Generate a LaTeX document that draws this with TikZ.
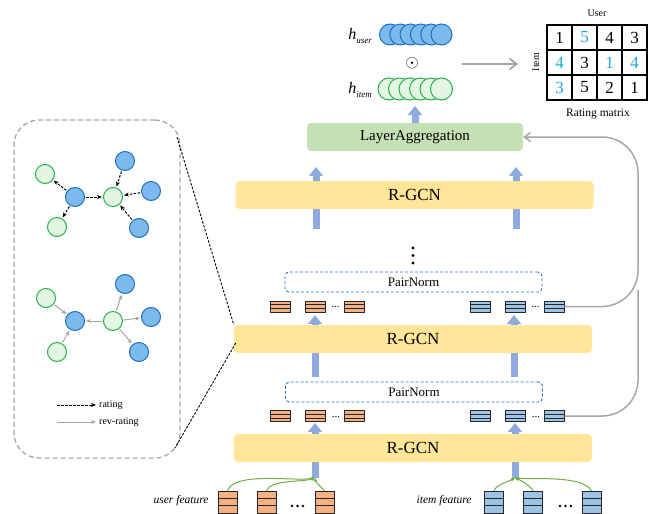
\documentclass[tikz,border=0pt]{standalone}
\usepackage{fontspec}
\setmainfont{Liberation Serif}
\usetikzlibrary{arrows.meta,calc}
\definecolor{bfill}{HTML}{7CB9EC}
\definecolor{bdraw}{HTML}{1F6FC0}
\definecolor{gfill}{HTML}{E3F6E3}
\definecolor{gdraw}{HTML}{24B04A}
\definecolor{fatc}{HTML}{8FAADC}
\definecolor{yel}{HTML}{FFE699}
\definecolor{lagg}{HTML}{C5E0B4}
\definecolor{orf}{HTML}{F4B183}
\definecolor{blf}{HTML}{9DC3E6}
\definecolor{pn}{HTML}{2E75B6}
\definecolor{cy}{HTML}{1EA7E1}
\definecolor{gr}{HTML}{A6A6A6}
\definecolor{grn}{HTML}{70AD47}
\newcommand{\fsz}[1]{\fontsize{#1}{#1}\selectfont}
\tikzset{
  layer/.style={fill=yel, rounded corners=4pt, minimum width=358pt, minimum height=28pt, inner sep=0pt, font=\fsz{17}},
  aggbox/.style={fill=lagg, rounded corners=4pt, minimum width=216pt, minimum height=28pt, inner sep=0pt, font=\fsz{15}},
  pairbox/.style={draw=pn, dashed, dash pattern=on 3pt off 2pt, line width=0.9pt, rounded corners=4pt, minimum width=257pt, minimum height=20pt, inner sep=0pt, font=\fsz{13}},
  fat/.style={draw=fatc, line width=7pt, -{Triangle[length=9pt,width=14pt]}},
  stripe/.style={draw=black!85, fill=#1, line width=0.6pt, minimum width=20pt, minimum height=11pt, inner sep=0pt,
    path picture={\draw[black!85,line width=0.6pt]
      ($(path picture bounding box.north west)!0.333!(path picture bounding box.south west)$) -- ($(path picture bounding box.north east)!0.333!(path picture bounding box.south east)$)
      ($(path picture bounding box.north west)!0.667!(path picture bounding box.south west)$) -- ($(path picture bounding box.north east)!0.667!(path picture bounding box.south east)$);}},
  featbox/.style={stripe=#1, minimum width=19pt, minimum height=22pt},
  bnode/.style={circle, fill=bfill, draw=bdraw, line width=1pt, minimum size=19pt, inner sep=0pt},
  gnode/.style={circle, fill=gfill, draw=gdraw, line width=1pt, minimum size=19pt, inner sep=0pt},
  hub/.style={circle, fill=bfill, draw=bdraw, line width=1pt, minimum size=21pt, inner sep=0pt},
  hig/.style={circle, fill=gfill, draw=gdraw, line width=1pt, minimum size=22pt, inner sep=0pt},
  redge/.style={black, dashed, dash pattern=on 2.5pt off 1.5pt, line width=1pt, -{Stealth[length=5pt,width=4pt]}, shorten >=1pt, shorten <=1pt},
  gedge/.style={gr, line width=1pt, -{Stealth[length=5pt,width=4pt]}, shorten >=1pt, shorten <=1pt},
  gline/.style={grn, line width=1pt, -{Stealth[length=4pt,width=4pt]}},
  cell/.style={draw=black, line width=1.2pt, minimum size=25pt, inner sep=0pt, font=\fsz{17}},
  side/.style={gr, line width=1.5pt, rounded corners=36pt},
}
\begin{document}
\begin{tikzpicture}[x=1pt,y=-1pt]
\useasboundingbox (0,0) rectangle (659,514);

% ---- fat arrows (behind boxes)
\coordinate (fa1s) at (315,478); \coordinate (fa1e) at (315,423);
\coordinate (fb1s) at (515,478); \coordinate (fb1e) at (515,423);
\coordinate (fa2s) at (315,377); \coordinate (fa2e) at (315,315);
\coordinate (fb2s) at (514,377); \coordinate (fb2e) at (514,315);
\coordinate (fa3s) at (316,229); \coordinate (fa3e) at (316,167);
\coordinate (fb3s) at (516,229); \coordinate (fb3e) at (516,167);
\draw[fat] (fa1s) -- (fa1e);
\draw[fat] (fb1s) -- (fb1e);
\draw[fat] (fa2s) -- (fa2e);
\draw[fat] (fb2s) -- (fb2e);
\draw[fat] (fa3s) -- (fa3e);
\draw[fat] (fb3s) -- (fb3e);

% ---- layers
\node[layer] (r1) at (413,448) {R-GCN};
\node[layer] (r2) at (413,339) {R-GCN};
\node[layer] (r3) at (414.5,195) {R-GCN};
\node[aggbox] (la) at (415,137) {LayerAggregation};
\node[pairbox] (pn1) at (414,392) {PairNorm};
\node[pairbox] (pn2) at (413.5,282) {PairNorm};
\foreach \yy in {248,255.5,263} \fill (413,\yy) circle (1.6pt);

% ---- feature rows
\node[stripe=orf] (ol1) at (280.5,416) {};
\node[stripe=orf] (ol2) at (315,416) {};
\node[stripe=orf] (ol3) at (354.5,416) {};
\node[stripe=blf] (bl1) at (480.5,416) {};
\node[stripe=blf] (bl2) at (515,416) {};
\node[stripe=blf] (bl3) at (554.5,416) {};
\node[font=\fsz{11}] (dl1) at (336,417) {...};
\node[font=\fsz{11}] (dl2) at (536,417) {...};
\node[stripe=orf] (ou1) at (280,306.5) {};
\node[stripe=orf] (ou2) at (315,306.5) {};
\node[stripe=orf] (ou3) at (354,306.5) {};
\node[stripe=blf] (bu1) at (480,306.5) {};
\node[stripe=blf] (bu2) at (515,306.5) {};
\node[stripe=blf] (bu3) at (554,306.5) {};
\node[font=\fsz{11}] (du1) at (335.5,307.5) {...};
\node[font=\fsz{11}] (du2) at (535.5,307.5) {...};

% ---- side connections
\coordinate (sc) at (638,306.5);
\draw[side] (bl3.east) -- (638,416) -- (638,290);
\draw[side, -{Straight Barb[length=6pt,width=9pt]}] (bu3.east) -- (sc) -- (638,137) -- (la.east);

% ---- input features
\node[featbox=orf] (uf1) at (227.5,502) {};
\node[featbox=orf] (uf2) at (266.5,502) {};
\node[featbox=orf] (uf3) at (324.5,502) {};
\node[featbox=blf] (if1) at (494,502) {};
\node[featbox=blf] (if2) at (533,502) {};
\node[featbox=blf] (if3) at (591.5,502) {};
\foreach \xx in {292,297.5,303} \fill (\xx,506) circle (1.4pt);
\foreach \xx in {560,565.5,571} \fill (\xx,506) circle (1.4pt);
\node[font=\fsz{11.5}\itshape, anchor=east] (ufl) at (212,501) {user feature};
\node[font=\fsz{11.5}\itshape, anchor=east] (ifl) at (475,501) {item feature};
\draw[gline] (uf1.north) to[out=70,in=190,looseness=0.6] (fa1s);
\draw[gline] (uf2.north) to[out=70,in=200,looseness=0.6] (fa1s);
\draw[gline] (uf3.north) to[out=130,in=-80,looseness=0.8] (fa1s);
\draw[gline] (if1.north) to[out=70,in=210,looseness=0.7] (fb1s);
\draw[gline] (if2.north) to[out=120,in=-20,looseness=0.7] (fb1s);
\draw[gline] (if3.north) to[out=120,in=-5,looseness=0.6] (fb1s);

% ---- output embeddings
\coordinate (la2s) at (415,123); \coordinate (la2e) at (415,106);
\draw[fat] (la2s) -- (la2e);
\foreach \i in {1,...,6} \node[hub] (hu\i) at ({390+10.3*(\i-1)},34.5) {};
\foreach \i in {1,...,6} \node[hig] (hi\i) at ({389+10.5*(\i-1)},89) {};
\node[font=\fsz{16}] (hul) at (360,36) {\textit{h}\raisebox{-4pt}{\fsz{9}\itshape user}};
\node[font=\fsz{16}] (hil) at (360,90) {\textit{h}\raisebox{-4pt}{\fsz{9}\itshape item}};
\node (dot) at (412,63) {\fsz{17}$\odot$};
\coordinate (ga1) at (462,64);
\coordinate (ga2) at (518,64);
\draw[gr, line width=1.8pt, -{Straight Barb[length=7pt,width=11pt]}] (ga1) -- (ga2);

% ---- rating matrix
\node[cell] (m11) at (559.5,37.5) {1};
\node[cell,text=cy] (m12) at (584.5,37.5) {5};
\node[cell] (m13) at (609.5,37.5) {4};
\node[cell] (m14) at (634.5,37.5) {3};
\node[cell,text=cy] (m21) at (559.5,62.5) {4};
\node[cell] (m22) at (584.5,62.5) {3};
\node[cell,text=cy] (m23) at (609.5,62.5) {1};
\node[cell,text=cy] (m24) at (634.5,62.5) {4};
\node[cell,text=cy] (m31) at (559.5,87.5) {3};
\node[cell] (m32) at (584.5,87.5) {5};
\node[cell] (m33) at (609.5,87.5) {2};
\node[cell] (m34) at (634.5,87.5) {1};
\node[font=\fsz{10}] (ulab) at (597,13) {User};
\node[font=\fsz{10}, rotate=90] (ilab) at (536,62) {Item};
\node[font=\fsz{11.5}] (rlab) at (598,114) {Rating matrix};

% ---- left panel
\node[draw=gr, dashed, dash pattern=on 5pt off 3pt, line width=1.3pt, rounded corners=25pt, minimum width=166pt, minimum height=338pt, inner sep=0pt] (panel) at (97,289) {};
\coordinate (pc1) at (177,137);
\coordinate (pc2) at (175,448);
\coordinate (rc2) at ($(r2.west)+(2,4)$);
\draw[black, dashed, dash pattern=on 2.5pt off 1.5pt, line width=0.9pt] (pc1) -- (r2.north west);
\draw[black, dashed, dash pattern=on 2.5pt off 1.5pt, line width=0.9pt] (rc2) -- (pc2);

% graph 1
\node[gnode] (a1) at (45,174) {};
\node[bnode] (a2) at (75,197) {};
\node[gnode] (a3) at (57,227) {};
\node[gnode] (a4) at (113,197) {};
\node[bnode] (a5) at (125,161) {};
\node[bnode] (a6) at (151,191) {};
\node[bnode] (a7) at (139,228) {};
\draw[redge] (a2) -- (a1);
\draw[redge] (a2) -- (a3);
\draw[redge] (a2) -- (a4);
\draw[redge] (a5) -- (a4);
\draw[redge] (a6) -- (a4);
\draw[redge] (a7) -- (a4);

% graph 2
\node[gnode] (b1) at (46,298) {};
\node[bnode] (b2) at (75,321) {};
\node[gnode] (b3) at (57,352) {};
\node[gnode] (b4) at (113,321) {};
\node[bnode] (b5) at (125,284) {};
\node[bnode] (b6) at (151,317) {};
\node[bnode] (b7) at (139,352) {};
\draw[gedge] (b1) -- (b2);
\draw[gedge] (b3) -- (b2);
\draw[gedge] (b4) -- (b2);
\draw[gedge] (b4) -- (b5);
\draw[gedge] (b4) -- (b6);
\draw[gedge] (b4) -- (b7);

% legend
\coordinate (l1a) at (57,405); \coordinate (l1b) at (96,405);
\coordinate (l2a) at (57,422); \coordinate (l2b) at (96,422);
\draw[redge, shorten >=0pt, shorten <=0pt] (l1a) -- (l1b);
\draw[gedge, line width=0.8pt, shorten >=0pt, shorten <=0pt] (l2a) -- (l2b);
\node[font=\fsz{10}, anchor=west, inner sep=1pt] (lt1) at (98,405) {rating};
\node[font=\fsz{10}, anchor=west, inner sep=1pt] (lt2) at (98,422) {rev-rating};
\end{tikzpicture}
\end{document}
